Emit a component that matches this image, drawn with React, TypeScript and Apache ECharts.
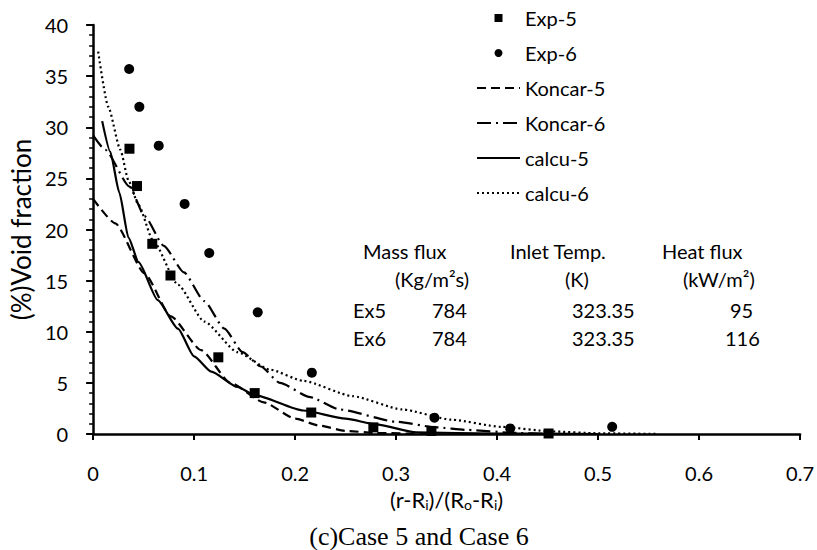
import React, { useEffect, useRef } from 'react';
import * as echarts from 'echarts';

// Experimental data
const exp5X = [0.036, 0.0435, 0.0586, 0.0766, 0.124, 0.160, 0.216, 0.2775, 0.335, 0.451];
const exp5Y = [27.9, 24.25, 18.6, 15.5, 7.5, 4.0, 2.1, 0.65, 0.3, 0.05];
const exp6X = [0.0357, 0.0458, 0.065, 0.0906, 0.115, 0.163, 0.2166, 0.338, 0.413, 0.514];
const exp6Y = [35.7, 32.0, 28.2, 22.5, 17.7, 11.9, 6.0, 1.6, 0.55, 0.7];

// Model curves
const koncar5X = [0, 0.022, 0.051, 0.077, 0.107, 0.136, 0.169, 0.2, 0.225, 0.25, 0.28, 0.33];
const koncar5Y = [23.0, 20.6, 15.7, 11.5, 8.2, 5.0, 3.1, 1.5, 0.8, 0.3, 0.1, 0.0];
const koncar6X = [0, 0.012, 0.036, 0.051, 0.07, 0.09, 0.11, 0.13, 0.148, 0.166, 0.185, 0.215, 0.244, 0.3, 0.34, 0.37, 0.42, 0.45];
const koncar6Y = [29.2, 27.8, 24.2, 21.3, 18.4, 15.8, 13.0, 10.3, 8.0, 6.6, 5.0, 3.6, 2.4, 1.2, 0.65, 0.4, 0.1, 0.0];
const calcu5X = [0.009, 0.017, 0.026, 0.035, 0.045, 0.064, 0.084, 0.1, 0.117, 0.143, 0.16, 0.208, 0.25, 0.28, 0.32, 0.4, 0.5];
const calcu5Y = [30.6, 27.6, 23.6, 19.2, 16.8, 13.1, 10.3, 7.6, 6.1, 4.6, 3.8, 2.3, 1.5, 0.95, 0.15, 0.05, 0.0];
const calcu6X = [0.005, 0.015, 0.027, 0.035, 0.045, 0.059, 0.084, 0.11, 0.143, 0.175, 0.208, 0.257, 0.306, 0.355, 0.404, 0.454, 0.5, 0.56];
const calcu6Y = [37.4, 32.0, 27.8, 24.8, 22.4, 19.0, 14.6, 11.0, 8.0, 6.3, 5.2, 3.7, 2.4, 1.4, 0.7, 0.25, 0.07, 0.0];

const seriesNames = ['Exp-5', 'Exp-6', 'Koncar-5', 'Koncar-6', 'calcu-5', 'calcu-6'];

// Conditions table
const tableHeaders = ['Mass flux', 'Inlet Temp.', 'Heat flux'];
const tableUnits = ['(Kg/m²s)', '(K)', '(kW/m²)'];
const caseLabels = ['Ex5', 'Ex6'];
const massFlux = ['784', '784'];
const inletTemp = ['323.35', '323.35'];
const heatFlux = ['95', '116'];

const zip = (xs: number[], ys: number[]) => xs.map((x, i) => [x, ys[i]]);

const FONT = 'Lato';

function buildOption() {
  const txt = (text: string, x: number, y: number, align = 'left') => ({
    type: 'text',
    x,
    y,
    style: { text, fontSize: 20, fontFamily: FONT, fill: '#000', align, verticalAlign: 'middle' },
  });
  const headerX = [363, 510, 662];
  const unitX = [395, 565, 683];
  const rowY = [310, 338];
  const graphics: any[] = [];
  tableHeaders.forEach((h, i) => graphics.push(txt(h, headerX[i], 251)));
  tableUnits.forEach((u, i) => graphics.push(txt(u, unitX[i], 279)));
  caseLabels.forEach((c, i) => {
    graphics.push(txt(c, 353, rowY[i]));
    graphics.push(txt(massFlux[i], 432, rowY[i]));
    graphics.push(txt(inletTemp[i], 572, rowY[i]));
    graphics.push(txt(heatFlux[i], i === 0 ? 730 : 725, rowY[i]));
  });
  graphics.push({
    type: 'text',
    x: 419,
    y: 536,
    style: {
      text: '(c)Case 5 and Case 6',
      fontSize: 26,
      fontFamily: 'Liberation Serif',
      fill: '#000',
      align: 'center',
      verticalAlign: 'middle',
    },
  });

  const lineBase = (name: string, xs: number[], ys: number[], type: any) => ({
    name,
    type: 'line',
    data: zip(xs, ys),
    symbol: 'none',
    smooth: 0.2,
    smoothMonotone: 'x',
    lineStyle: { color: '#000', width: 2.2, type },
    itemStyle: { color: '#000' },
    z: 2,
  });

  const legendData = seriesNames.map((n) => {
    if (n === 'Exp-5') return { name: n, icon: 'path://M0 0H10V10H0Z', itemStyle: { color: '#000', opacity: 1 } };
    if (n === 'Exp-6') return { name: n, icon: 'circle', itemStyle: { color: '#000', opacity: 1 } };
    return { name: n, itemStyle: { color: 'rgba(0,0,0,0)', borderWidth: 0, opacity: 0 } };
  });

  return {
    animation: false,
    textStyle: { fontFamily: FONT },
    grid: { left: 88, right: 16, top: 25, bottom: 116 },
    legend: {
      orient: 'vertical',
      left: 476,
      top: 8,
      padding: 0,
      itemWidth: 43,
      itemHeight: 8,
      itemGap: 15,
      data: legendData,
      textStyle: { fontSize: 20, color: '#000', fontFamily: FONT, lineHeight: 20 },
    },
    xAxis: {
      type: 'value',
      min: 0,
      max: 0.7,
      interval: 0.1,
      name: '(r-R{s|i})/(R{s|o}-R{s|i})',
      nameLocation: 'middle',
      nameGap: 49,
      nameTextStyle: {
        fontSize: 22,
        color: '#000',
        fontFamily: FONT,
        lineHeight: 24,
        rich: { s: { fontSize: 14, lineHeight: 9, verticalAlign: 'bottom', fontFamily: FONT, color: '#000' } },
      },
      axisLine: { lineStyle: { color: '#000', width: 2.5 } },
      axisTick: { inside: false, length: 6, lineStyle: { color: '#000', width: 2 } },
      axisLabel: { fontSize: 20, color: '#000', margin: 29, fontFamily: FONT },
      splitLine: { show: false },
    },
    yAxis: {
      type: 'value',
      min: 0,
      max: 40,
      interval: 5,
      name: '(%)Void fraction',
      nameLocation: 'middle',
      nameGap: 48,
      nameTextStyle: { fontSize: 26, color: '#000', fontFamily: FONT },
      axisLine: { show: true, lineStyle: { color: '#000', width: 2.5 } },
      axisTick: { show: true, inside: false, length: 7, lineStyle: { color: '#000', width: 2 } },
      minorTick: { show: true, splitNumber: 5, length: 4, lineStyle: { color: '#000', width: 1.5 } },
      axisLabel: { fontSize: 20, color: '#000', margin: 25, fontFamily: FONT },
      splitLine: { show: false },
    },
    graphic: graphics,
    series: [
      lineBase('Koncar-5', koncar5X, koncar5Y, [9, 5]),
      lineBase('Koncar-6', koncar6X, koncar6Y, [14, 5, 2, 5]),
      lineBase('calcu-5', calcu5X, calcu5Y, 'solid'),
      lineBase('calcu-6', calcu6X, calcu6Y, [2, 3]),
      {
        name: 'Exp-5',
        type: 'scatter',
        data: zip(exp5X, exp5Y),
        symbol: 'rect',
        symbolSize: 10,
        symbolKeepAspect: true,
        itemStyle: { color: '#000', opacity: 1 },
        z: 3,
      },
      {
        name: 'Exp-6',
        type: 'scatter',
        data: zip(exp6X, exp6Y),
        symbol: 'circle',
        symbolSize: 10,
        itemStyle: { color: '#000', opacity: 1 },
        z: 3,
      },
    ],
  };
}

export default function App() {
  const ref = useRef<HTMLDivElement>(null);
  useEffect(() => {
    document.body.style.margin = '0';
    const chart = echarts.init(ref.current!, null, { renderer: 'svg' });
    chart.setOption(buildOption() as any);
    return () => chart.dispose();
  }, []);
  return <div ref={ref} style={{ width: 817, height: 550 }} />;
}
